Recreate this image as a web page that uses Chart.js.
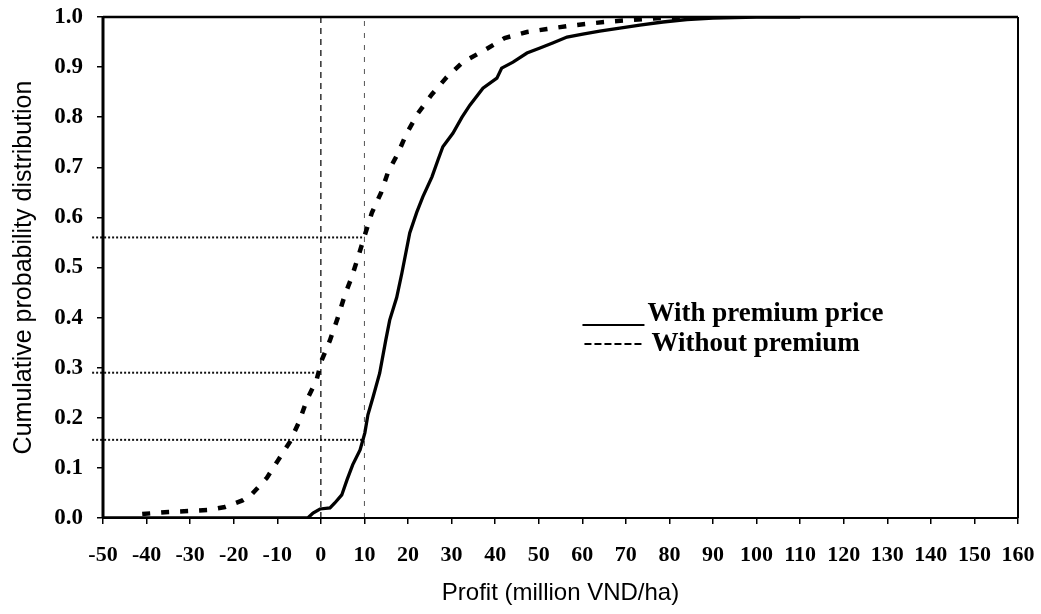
<!DOCTYPE html>
<html>
<head>
<meta charset="utf-8">
<script src="https://cdn.jsdelivr.net/npm/chart.js@4"></script>
<style>
  body { margin: 0; background: #fff; }
  #wrap { width: 1041px; height: 614px; }
</style>
</head>
<body>
<div id="wrap"><canvas id="cdfChart" width="1041" height="614"></canvas></div>
<script>
// Profit values (million VND/ha) and cumulative probabilities
const profitWith = [-50, -3, -1.8, -0.2, 2.1, 3.2, 4.8, 6, 7.3, 9, 10.1, 10.8, 12, 13.5, 14.9, 15.8,
  17.4, 18.6, 20.4, 22, 23.4, 25.5, 26.9, 28, 30.3, 32.4, 34.2, 37.2, 40.4, 41.5, 44.1, 47.3,
  50.3, 53.2, 56.5, 60.1, 64, 68.6, 73.2, 78.5, 84, 90, 100, 110];
const cdfWith = [0, 0, 0.01, 0.018, 0.02, 0.03, 0.046, 0.076, 0.106, 0.136, 0.17, 0.206, 0.242, 0.289, 0.355, 0.395,
  0.44, 0.489, 0.569, 0.61, 0.641, 0.681, 0.715, 0.741, 0.768, 0.8, 0.824, 0.858, 0.878, 0.898, 0.91, 0.928,
  0.938, 0.948, 0.96, 0.966, 0.972, 0.978, 0.984, 0.99, 0.995, 0.998, 1.0, 1.0];

const profitWithout = [-41, -35, -30, -26, -22, -18, -16, -12.4, -9.9, -7.1, -5, -3.2, -1, 0.2, 2.1, 3.9,
  5.5, 7.1, 8.7, 10.1, 11.7, 13.8, 15.4, 17.7, 19.7, 22.3, 25.5, 28.9, 32.6, 37.6, 42.2, 47.3,
  51.9, 56.7, 61.7, 66.3, 71.4, 78, 85];
const cdfWithout = [0.008, 0.012, 0.014, 0.016, 0.022, 0.035, 0.046, 0.08, 0.114, 0.152, 0.192, 0.236, 0.275, 0.315, 0.355, 0.4,
  0.445, 0.481, 0.525, 0.565, 0.609, 0.649, 0.69, 0.728, 0.768, 0.808, 0.846, 0.88, 0.91, 0.934, 0.958, 0.97,
  0.976, 0.982, 0.987, 0.991, 0.994, 0.998, 1.0];

// reference lines
const refVerticalX = [0, 10];
const refLevels = [0.56, 0.29, 0.156];
const refLevelStart = -52.5;
const refLevelEnd = [10, -1.5, 10];

const seriesNames = ['With premium price', 'Without premium'];

function toPoints(xs, ys) {
  return xs.map((x, i) => ({ x: x, y: ys[i] }));
}

const datasets = [
  {
    label: seriesNames[0],
    data: toPoints(profitWith, cdfWith),
    borderColor: '#000',
    borderWidth: 3.3,
    pointRadius: 0,
    tension: 0
  },
  {
    label: seriesNames[1],
    data: toPoints(profitWithout, cdfWithout),
    borderColor: '#000',
    borderWidth: 4.5,
    borderDash: [8, 11],
    pointRadius: 0,
    tension: 0
  }
];

refVerticalX.forEach((x, i) => {
  datasets.push({
    label: 'ref' + x,
    data: [{ x: x, y: 0 }, { x: x, y: 1 }],
    borderColor: i === 0 ? '#111' : '#555',
    borderWidth: i === 0 ? 1.3 : 1,
    borderDash: i === 0 ? [6, 5] : [5, 7],
    pointRadius: 0
  });
});

refLevels.forEach((lvl, i) => {
  datasets.push({
    label: 'level' + lvl,
    data: [{ x: refLevelStart, y: lvl }, { x: refLevelEnd[i], y: lvl }],
    borderColor: '#111',
    borderWidth: 2,
    borderDash: [2, 2],
    pointRadius: 0,
    clip: false
  });
});

// frame round the plot area
const framePlugin = {
  id: 'frame',
  afterDatasetsDraw(chart) {
    const a = chart.chartArea;
    const ctx = chart.ctx;
    ctx.save();
    ctx.strokeStyle = '#000';
    ctx.lineWidth = 2.5;
    ctx.beginPath(); ctx.moveTo(a.left, a.top); ctx.lineTo(a.right, a.top); ctx.stroke();
    ctx.lineWidth = 3;
    ctx.beginPath(); ctx.moveTo(a.left, a.top); ctx.lineTo(a.left, a.bottom); ctx.stroke();
    ctx.lineWidth = 2;
    ctx.beginPath(); ctx.moveTo(a.left, a.bottom); ctx.lineTo(a.right, a.bottom); ctx.stroke();
    ctx.beginPath(); ctx.moveTo(a.right, a.top); ctx.lineTo(a.right, a.bottom); ctx.stroke();
    ctx.restore();
  }
};

// legend written inside the plot, like the original
const textLegend = {
  id: 'textLegend',
  afterDraw(chart) {
    const a = chart.chartArea;
    const ctx = chart.ctx;
    const x0 = a.left + (a.right - a.left) * 0.524;
    const y0 = a.top + (a.bottom - a.top) * 0.607;
    ctx.save();
    ctx.fillStyle = '#000';
    ctx.strokeStyle = '#000';
    ctx.font = 'bold 27px "Liberation Serif", "Times New Roman", serif';
    ctx.textBaseline = 'alphabetic';
    ctx.lineWidth = 2;
    ctx.beginPath(); ctx.moveTo(x0, y0 + 4); ctx.lineTo(x0 + 62, y0 + 4); ctx.stroke();
    ctx.fillText(seriesNames[0], x0 + 65, y0);
    ctx.setLineDash([7, 3]);
    ctx.beginPath(); ctx.moveTo(x0 + 2, y0 + 23); ctx.lineTo(x0 + 62, y0 + 23); ctx.stroke();
    ctx.setLineDash([]);
    ctx.fillText(seriesNames[1], x0 + 69, y0 + 30);
    ctx.restore();
  }
};

const ctx = document.getElementById('cdfChart').getContext('2d');
const cdfChart = new Chart(ctx, {
  type: 'line',
  data: { datasets: datasets },
  options: {
    responsive: false,
    animation: false,
    layout: { padding: { top: 17, right: 23, left: 0, bottom: 0 } },
    plugins: {
      legend: { display: false },
      tooltip: { enabled: false }
    },
    scales: {
      x: {
        type: 'linear',
        min: -50,
        max: 160,
        border: { display: false },
        grid: { drawOnChartArea: false, tickLength: 6, color: '#000', lineWidth: 1.5 },
        ticks: {
          stepSize: 10,
          autoSkip: false,
          maxRotation: 0,
          padding: 18,
          color: '#000',
          font: { family: '"Liberation Serif", "Times New Roman", serif', size: 22, weight: 'bold' }
        },
        title: {
          display: true,
          text: 'Profit (million VND/ha)',
          color: '#000',
          padding: { top: 0, bottom: 6 },
          font: { family: '"Liberation Sans", Arial, sans-serif', size: 24 }
        },
        afterFit(scale) {
          scale.height = 96;
          scale.paddingLeft = 0;
          scale.paddingRight = 0;
        }
      },
      y: {
        min: 0,
        max: 1,
        border: { display: false },
        grid: { drawOnChartArea: false, tickLength: 6, color: '#000', lineWidth: 1.5 },
        ticks: {
          stepSize: 0.1,
          padding: 14,
          color: '#000',
          font: { family: '"Liberation Serif", "Times New Roman", serif', size: 23, weight: 'bold' },
          callback: (v) => v.toFixed(1)
        },
        title: {
          display: true,
          text: 'Cumulative probability distribution',
          color: '#000',
          padding: { top: 9, bottom: 0 },
          font: { family: '"Liberation Sans", Arial, sans-serif', size: 25 }
        },
        afterFit(scale) {
          scale.width = 103;
          scale.paddingTop = 0;
          scale.paddingBottom = 0;
        }
      }
    }
  },
  plugins: [framePlugin, textLegend]
});
</script>
</body>
</html>
